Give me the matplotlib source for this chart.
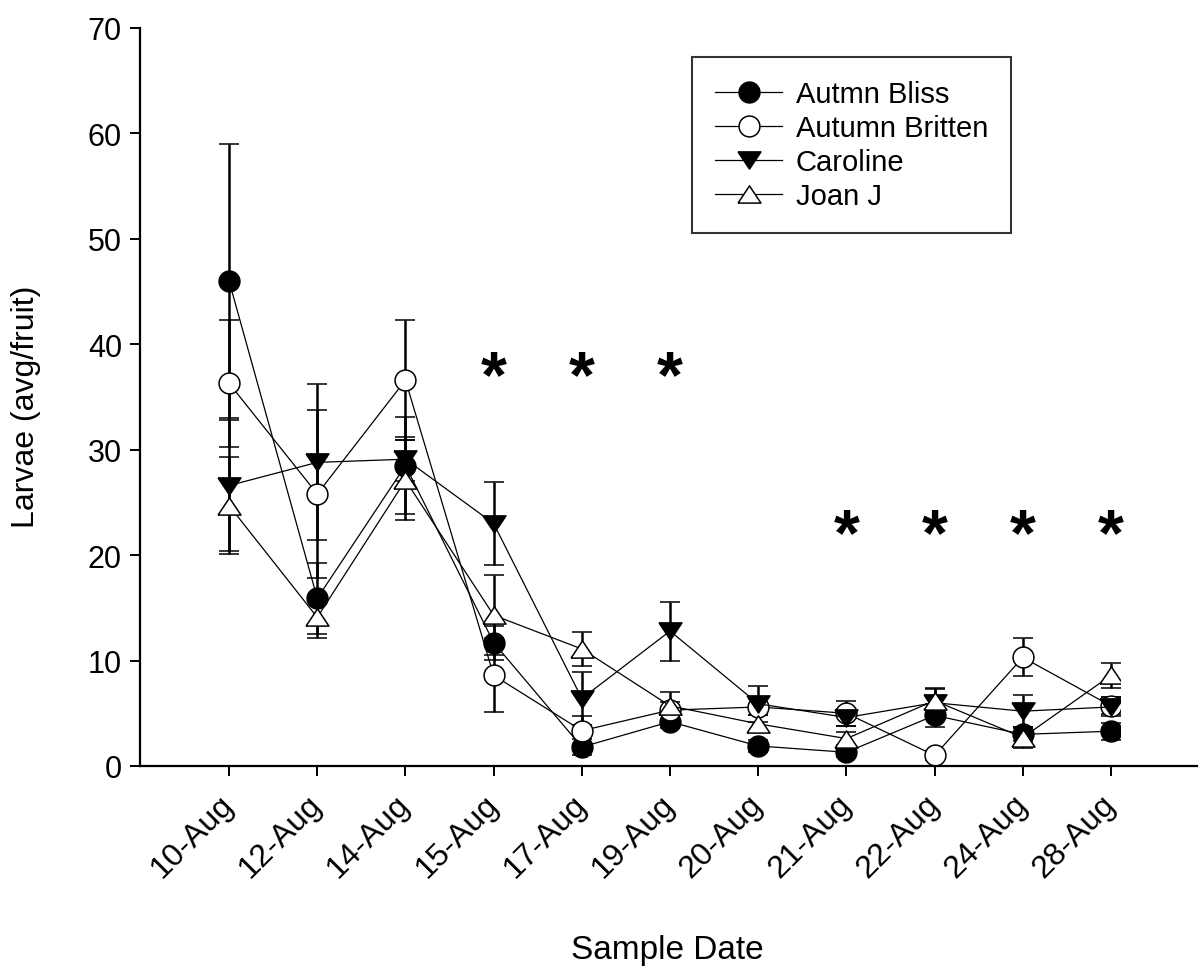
import numpy as np
import matplotlib
matplotlib.use("Agg")
import matplotlib.pyplot as plt
from matplotlib.patches import Rectangle

plt.rcParams['font.family'] = ['Liberation Sans', 'DejaVu Sans']

dates = ['10-Aug', '12-Aug', '14-Aug', '15-Aug', '17-Aug', '19-Aug',
         '20-Aug', '21-Aug', '22-Aug', '24-Aug', '28-Aug']

bliss = [46.0, 15.9, 28.5, 11.7, 1.8, 4.2, 1.9, 1.3, 4.8, 3.0, 3.3]
bliss_err = [13.0, 3.4, 4.6, 1.6, 0.8, 0.6, 0.6, 0.4, 1.1, 0.6, 0.8]

britten = [36.3, 25.8, 36.6, 8.6, 3.35, 5.3, 5.6, 5.0, 1.0, 10.3, 5.7]
britten_err = [6.0, 8.0, 5.7, 3.5, 1.4, 0.8, 0.8, 1.2, 0.4, 1.8, 0.8]

caroline = [26.6, 28.8, 29.1, 23.0, 6.4, 12.8, 5.9, 4.6, 6.0, 5.2, 5.6]
caroline_err = [6.2, 7.4, 2.1, 3.9, 2.5, 2.8, 1.7, 0.8, 1.3, 1.5, 0.9]

joan = [24.7, 14.1, 27.1, 14.3, 11.1, 5.7, 4.0, 2.6, 6.2, 2.7, 8.6]
joan_err = [4.6, 2.0, 3.8, 3.8, 1.6, 1.3, 0.8, 0.6, 1.2, 1.0, 1.2]

series_names = ['Autmn Bliss', 'Autumn Britten', 'Caroline', 'Joan J']

star_dates = ['15-Aug', '17-Aug', '19-Aug', '21-Aug', '22-Aug', '24-Aug', '28-Aug']
star_values = [37.9, 37.9, 37.9, 22.9, 22.9, 22.9, 22.9]

x = np.arange(len(dates))

fig = plt.figure(figsize=(12.02, 9.70), dpi=100)
ax = fig.add_axes([140/1202, 1 - 767/970, (1197-140)/1202, (767-29)/970])

down_tri = [(-1, 0.75), (1, 0.75), (0, -0.75), (-1, 0.75)]
up_tri = [(-1, -0.75), (1, -0.75), (0, 0.75), (-1, -0.75)]

series = [
    (bliss, bliss_err, 'o', 'black', 15),
    (britten, britten_err, 'o', 'white', 15),
    (caroline, caroline_err, down_tri, 'black', 16.5),
    (joan, joan_err, up_tri, 'white', 16.5),
]

clip = Rectangle((-1.01, -10), 11.11, 120, transform=ax.transData)

handles = []
for vals, errs, mk, fc, ms in series:
    cont = ax.errorbar(x, vals, yerr=errs, color='black', lw=0.9,
                       marker=mk, markersize=ms, markerfacecolor=fc,
                       markeredgecolor='black', markeredgewidth=1.1,
                       elinewidth=1.8, capsize=7.5, capthick=1.8)
    line, caps, bars = cont
    line.set_clip_path(clip)
    for c in caps:
        c.set_clip_path(clip)
    for b in bars:
        b.set_clip_path(clip)
    handles.append(line)

fs_star = 48
for d, v in zip(star_dates, star_values):
    i = dates.index(d)
    ax.annotate('*', xy=(i, v), xytext=(0, -0.445*fs_star), textcoords='offset points',
                ha='center', va='baseline', fontsize=fs_star, fontweight='bold')

ax.set_xlim(-1.01, 10.975)
ax.set_ylim(0, 70)
ax.set_yticks(np.arange(0, 71, 10))
ax.set_xticks(x)
ax.set_xticklabels(dates, rotation=45, ha='right', va='center',
                   rotation_mode='anchor', fontsize=23)
ax.tick_params(axis='y', labelsize=22, length=7, width=1.4, direction='out', pad=6)
ax.tick_params(axis='x', length=7, width=1.4, direction='out', pad=17)

for s in ['top', 'right']:
    ax.spines[s].set_visible(False)
for s in ['left', 'bottom']:
    ax.spines[s].set_linewidth(1.6)

ax.set_ylabel('Larvae (avg/fruit)', fontsize=23)
ax.yaxis.set_label_coords(-0.0935, 0.488)
ax.set_xlabel('Sample Date', fontsize=24)
ax.xaxis.set_label_coords(0.499, -0.2276)

leg = ax.legend(handles, series_names, loc='upper left', bbox_to_anchor=(0.5222, 0.9607),
                borderaxespad=0, fontsize=21, frameon=True, fancybox=False,
                edgecolor='black', handlelength=2.3, handletextpad=0.45,
                labelspacing=0.2, borderpad=0.8, numpoints=1)
leg.get_frame().set_linewidth(1.5)

fig.savefig('out.png', dpi=100, facecolor='white')
